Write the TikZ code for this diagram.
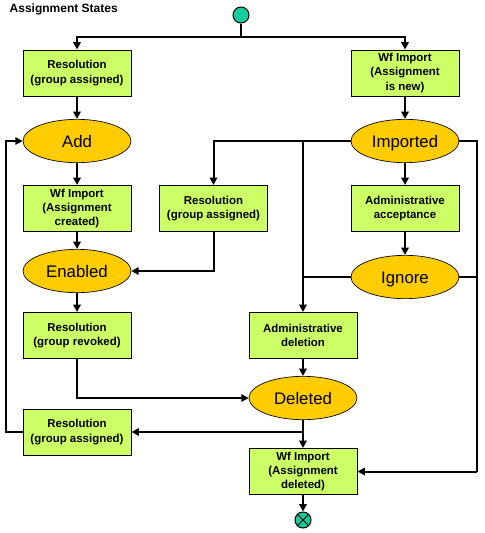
\documentclass[tikz,border=0pt]{standalone}
\usepackage{fontspec}
\setmainfont{Liberation Sans}
\usetikzlibrary{arrows.meta,shapes.geometric}
\definecolor{boxgreen}{HTML}{CCFF66}
\definecolor{stategold}{HTML}{FFCC00}
\definecolor{termteal}{HTML}{19CC99}
\begin{document}
\begin{tikzpicture}[x=0.75pt,y=-0.75pt,
  actbox/.style={draw=black, line width=0.75pt, fill=boxgreen, minimum width=81pt, minimum height=34.5pt, inner sep=0pt, align=center, font=\bfseries\fontsize{8.6}{10.7}\selectfont},
  state/.style={ellipse, draw=black, line width=0.5pt, fill=stategold, minimum width=81pt, minimum height=32.5pt, inner sep=0pt, text height=9pt, text depth=0pt, font=\fontsize{12.6}{14}\selectfont},
  term/.style={circle, draw=black, line width=0.75pt, fill=termteal, minimum size=12pt, inner sep=0pt},
  flow/.style={line width=1.5pt, -{Triangle[length=5.5pt,width=5.5pt]}},
  plain/.style={line width=1.5pt}]
\useasboundingbox (0,0) rectangle (485,533);
\node[anchor=base west, font=\bfseries\fontsize{9}{11}\selectfont] (title) at (5,12) {Assignment States};
\node[term] (start) at (241,15) {};
\node[actbox] (r1) at (77,73) {Resolution\\(group assigned)};
\node[actbox] (wfnew) at (405,73) {Wf Import\\(Assignment\\is new)};
\node[state] (add) at (77,141) {Add};
\node[state] (imported) at (405,141) {Imported};
\node[actbox] (wfcreated) at (77,208.5) {Wf Import\\(Assignment\\created)};
\node[actbox] (r2) at (213.5,208.5) {Resolution\\(group assigned)};
\node[actbox] (accept) at (405,208.5) {Administrative\\acceptance};
\node[state] (enabled) at (77,271) {Enabled};
\node[state] (ignore) at (405,277) {Ignore};
\node[actbox] (revoked) at (77,335.5) {Resolution\\(group revoked)};
\node[actbox] (admdel) at (303,335.5) {Administrative\\deletion};
\node[state] (deleted) at (303,398) {Deleted};
\node[actbox] (r3) at (77,432) {Resolution\\(group assigned)};
\node[actbox] (wfdel) at (303,471.5) {Wf Import\\(Assignment\\deleted)};
\node[term] (end) at (303,520) {};
\draw[line width=0.75pt] (end.north west) -- (end.south east) (end.north east) -- (end.south west);
% connectors
\coordinate (split) at (241,37);
\coordinate (loopx) at (6,0);
\coordinate (rightx) at (477,0);
\draw[plain] (start.south) -- (split);
\draw[flow] (split) -| (r1.north);
\draw[flow] (split) -| (wfnew.north);
\draw[flow] (r1) -- (add);
\draw[flow] (wfnew) -- (imported);
\draw[flow] (add) -- (wfcreated);
\draw[flow] (wfcreated) -- (enabled);
\draw[flow] (imported) -- (accept);
\draw[flow] (accept) -- (ignore);
\draw[flow] (imported.west) -| (r2.north);
\draw[flow] (r2.south) |- (enabled.east);
\draw[flow] (imported.west) -| (admdel.north);
\draw[plain] (ignore.west) -- (ignore.west -| admdel.north);
\draw[flow] (enabled) -- (revoked);
\draw[flow] (revoked.south) |- (deleted.west);
\draw[flow] (admdel) -- (deleted);
\draw[flow] (deleted) -- (wfdel);
\coordinate (junc) at (deleted.south |- r3.east);
\draw[flow] (junc) -- (r3.east);
\draw[flow] (r3.west) -- (r3.west -| loopx) |- (add.west);
\draw[plain] (imported.east) -- (imported.east -| rightx) -- (wfdel.east -| rightx);
\draw[flow] (wfdel.east -| rightx) -- (wfdel.east);
\draw[plain] (ignore.east) -- (ignore.east -| rightx);
\draw[flow] (wfdel) -- (end);
\end{tikzpicture}
\end{document}
